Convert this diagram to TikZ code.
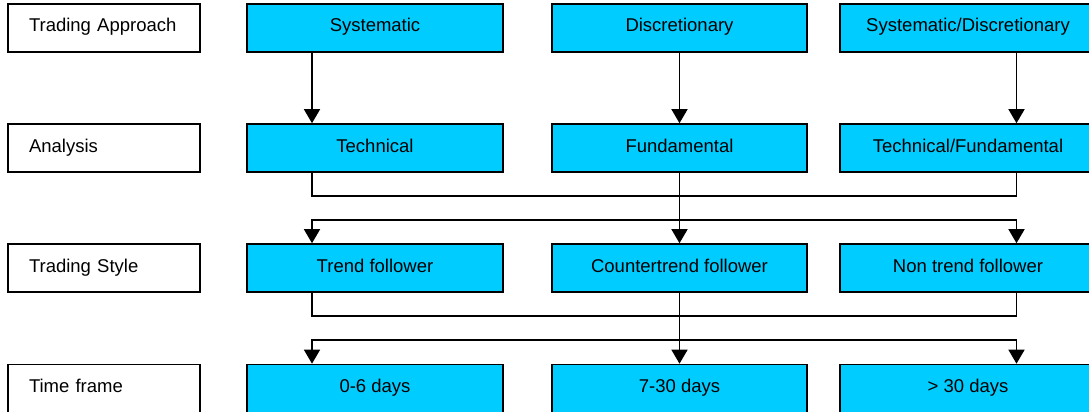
\documentclass[tikz,border=0pt]{standalone}
\usepackage{fontspec}
\setmainfont{Liberation Sans}
\usetikzlibrary{arrows.meta}
\definecolor{boxblue}{RGB}{0,204,255}
\tikzset{tip/.tip={Triangle[length=14pt,width=16pt]}}
\begin{document}
\begin{tikzpicture}[x=1pt,y=-1pt,
  base/.style={draw=black,line width=1.6pt,rectangle,minimum height=48pt,
    text height=13.3pt,text depth=5.3pt,font=\fontsize{18.5}{22}\selectfont},
  rowlabel/.style={base,fill=white,text width=150pt,align=left,inner xsep=21pt},
  bluebox/.style={base,fill=boxblue,minimum width=256pt},
  conn/.style={line width=1.5pt},
  arr/.style={conn,-tip},
  arr2/.style={conn,tip-tip}
]
\useasboundingbox (0,0) rectangle (1089,412);
\clip (0,0) rectangle (1089,412);

\node[rowlabel] (l1) at (104,28) {Trading Approach};
\node[rowlabel] (l2) at (104,148) {Analysis};
\node[rowlabel] (l3) at (104,268) {Trading Style};
\node[rowlabel] (l4) at (104,388.5) {Time frame};

\node[bluebox] (a1) at (375,28) {Systematic};
\node[bluebox,minimum width=255pt] (a2) at (679.5,28) {Discretionary};
\node[bluebox] (a3) at (968,28) {Systematic/Discretionary};

\node[bluebox] (b1) at (375,148) {Technical};
\node[bluebox,minimum width=255pt] (b2) at (679.5,148) {Fundamental};
\node[bluebox] (b3) at (968,148) {Technical/Fundamental};

\node[bluebox] (c1) at (375,268) {Trend follower};
\node[bluebox,minimum width=255pt] (c2) at (679.5,268) {Countertrend follower};
\node[bluebox] (c3) at (968,268) {Non trend follower};

\node[bluebox] (d1) at (375,388.5) {0-6 days};
\node[bluebox,minimum width=255pt] (d2) at (679.5,388.5) {7-30 days};
\node[bluebox] (d3) at (968,388.5) {> 30 days};

\coordinate (x1) at (312,0);
\coordinate (x3) at (1016.5,0);
\coordinate (h1) at (0,196);
\coordinate (h2) at (0,220);
\coordinate (h3) at (0,316);
\coordinate (h4) at (0,340);

% row 1 -> row 2
\draw[arr] (a1.south -| x1) -- (b1.north -| x1);
\draw[arr] (a2.south) -- (b2.north);
\draw[arr] (a3.south -| x3) -- (b3.north -| x3);

% row 2 -> row 3
\draw[conn] (b1.south -| x1) -- (x1 |- h1) -- (x3 |- h1) -- (b3.south -| x3);
\draw[arr] (b2.south) -- (c2.north);
\draw[arr2] (c1.north -| x1) -- (x1 |- h2) -- (x3 |- h2) -- (c3.north -| x3);

% row 3 -> row 4
\draw[conn] (c1.south -| x1) -- (x1 |- h3) -- (x3 |- h3) -- (c3.south -| x3);
\draw[arr] (c2.south) -- (d2.north);
\draw[arr2] (d1.north -| x1) -- (x1 |- h4) -- (x3 |- h4) -- (d3.north -| x3);
\end{tikzpicture}
\end{document}
